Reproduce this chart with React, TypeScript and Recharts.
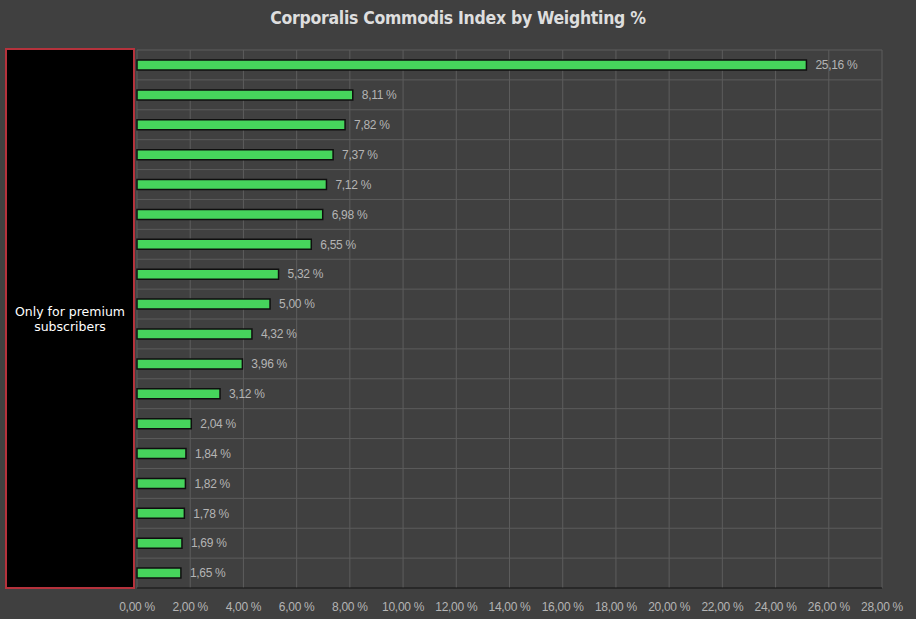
import { Bar, BarChart, CartesianGrid, LabelList, XAxis, YAxis } from "recharts";

const components = [
  "Component 1", "Component 2", "Component 3", "Component 4", "Component 5", "Component 6",
  "Component 7", "Component 8", "Component 9", "Component 10", "Component 11", "Component 12",
  "Component 13", "Component 14", "Component 15", "Component 16", "Component 17", "Component 18",
];
const weights = [25.16, 8.11, 7.82, 7.37, 7.12, 6.98, 6.55, 5.32, 5.0, 4.32, 3.96, 3.12, 2.04, 1.84, 1.82, 1.78, 1.69, 1.65];
const xTicks = [0, 2, 4, 6, 8, 10, 12, 14, 16, 18, 20, 22, 24, 26, 28];

const data = components.map((name, i) => ({ name, weight: weights[i] }));

const fmt = (v: number) => `${v.toFixed(2).replace(".", ",")} %`;

export default function App() {
  return (
    <div style={{ position: "absolute", left: 0, top: 0, width: 916, height: 619, background: "#404040" }}>
      <div
        style={{
          position: "absolute",
          top: 8,
          width: 916,
          textAlign: "center",
          fontFamily: "'DejaVu Sans Condensed', 'DejaVu Sans'",
          fontWeight: "bold",
          fontSize: 17.5,
          letterSpacing: -0.3,
          color: "#dedede",
        }}
      >
        Corporalis Commodis Index by Weighting %
      </div>
      <BarChart
        width={916}
        height={619}
        data={data}
        layout="vertical"
        margin={{ top: 50, right: 34, left: 137, bottom: 0 }}
        barCategoryGap={0}
      >
        <CartesianGrid
          stroke="#5c5c5c"
          horizontalCoordinatesGenerator={({ offset }: any) =>
            components.map((_, i) => offset.top + (i * offset.height) / components.length)
          }
        />
        <XAxis
          type="number"
          domain={[0, 28]}
          ticks={xTicks}
          tickFormatter={fmt}
          tick={{ fill: "#b4b4b4", fontSize: 12, fontFamily: "'Liberation Sans', Arial", letterSpacing: -0.3 }}
          tickLine={false}
          axisLine={{ stroke: "#111111" }}
          tickMargin={8}
          height={31}
          interval={0}
        />
        <YAxis type="category" dataKey="name" hide />
        <Bar dataKey="weight" fill="#46d45c" stroke="#0f0f0f" strokeWidth={1.5} barSize={10} isAnimationActive={false}>
          <LabelList
            dataKey="weight"
            position="right"
            offset={9}
            formatter={(v: any) => fmt(Number(v))}
            style={{ fill: "#b4b4b4", fontSize: 12, fontFamily: "'Liberation Sans', Arial", letterSpacing: -0.3 }}
          />
        </Bar>
      </BarChart>
      <div
        style={{
          position: "absolute",
          left: 5,
          top: 48,
          width: 126,
          height: 537,
          background: "#000",
          border: "2px solid #b5323c",
          display: "flex",
          alignItems: "center",
          justifyContent: "center",
          textAlign: "center",
          color: "#ffffff",
          fontFamily: "'DejaVu Sans'",
          fontSize: 12.5,
          lineHeight: "15px",
        }}
      >
        Only for premium
        <br />
        subscribers
      </div>
    </div>
  );
}
